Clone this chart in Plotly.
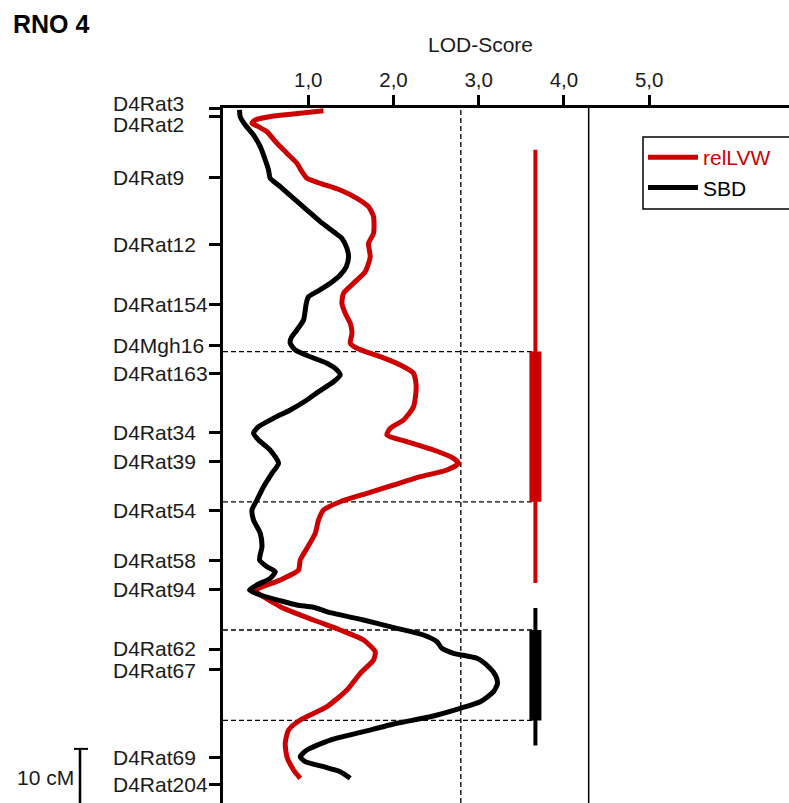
import plotly.graph_objects as go

# ---- data (LOD score vs. position in cM) ----
markers = ["D4Rat3", "D4Rat2", "D4Rat9", "D4Rat12", "D4Rat154", "D4Mgh16", "D4Rat163",
           "D4Rat34", "D4Rat39", "D4Rat54", "D4Rat58", "D4Rat94", "D4Rat62", "D4Rat67",
           "D4Rat69", "D4Rat204"]
marker_cm = [0, 1.5, 11.9, 23.6, 33.8, 40.9, 45.7, 55.9, 61.0, 69.4, 78.1, 83.0, 93.3, 96.8,
             112.0, 116.7]

sbd_lod = [0.194, 0.202, 0.261, 0.358, 0.437, 0.496, 0.534, 0.554, 0.672, 0.828, 0.985, 1.141,
           1.297, 1.395, 1.454, 1.473, 1.446, 1.375, 1.258, 1.102, 1.004, 0.977, 0.965, 0.945,
           0.867, 0.797, 0.789, 0.848, 1.023, 1.219, 1.337, 1.375, 1.297, 1.121, 0.985, 0.789,
           0.593, 0.417, 0.358, 0.417, 0.554, 0.652, 0.574, 0.476, 0.398, 0.340, 0.358, 0.437,
           0.457, 0.429, 0.516, 0.613, 0.554, 0.398, 0.311, 0.437, 0.672, 0.867, 1.062, 1.258,
           1.649, 2.040, 2.352, 2.510, 2.568, 2.704, 2.979, 3.115, 3.194, 3.221, 3.174, 3.018,
           2.783, 2.431, 2.040, 1.649, 1.258, 0.985, 0.906, 0.965, 1.179, 1.375, 1.493]
sbd_cm = [0.34, 1.50, 2.93, 4.66, 6.67, 8.97, 10.69, 12.12, 13.57, 15.57, 17.59, 19.60,
          21.33, 22.47, 24.19, 25.64, 27.36, 28.79, 30.22, 31.67, 32.53, 33.67, 34.83, 36.55,
          38.28, 39.71, 40.57, 41.72, 42.88, 44.02, 45.17, 46.03, 47.19, 48.91, 50.34, 52.07,
          53.50, 54.95, 56.09, 57.24, 58.97, 61.26, 62.98, 65.29, 67.59, 69.31, 71.03, 73.33,
          75.64, 77.93, 79.09, 79.95, 81.09, 82.24, 83.10, 83.97, 84.95, 85.69, 86.09, 87.02,
          88.28, 89.71, 90.86, 92.02, 93.16, 94.02, 94.88, 96.33, 97.76, 99.19, 100.64, 102.36,
          103.50, 104.95, 106.09, 107.53, 108.97, 110.69, 111.84, 112.71, 113.57, 114.43, 115.57]

rel_lod = [1.179, 0.906, 0.593, 0.378, 0.340, 0.417, 0.516, 0.633, 0.750, 0.867, 0.926, 0.985,
           1.141, 1.375, 1.571, 1.707, 1.766, 1.766, 1.707, 1.727, 1.669, 1.531, 1.414, 1.395,
           1.434, 1.493, 1.513, 1.493, 1.571, 1.845, 2.079, 2.235, 2.267, 2.235, 2.118, 1.962,
           1.923, 2.158, 2.470, 2.704, 2.763, 2.627, 2.314, 2.001, 1.689, 1.375, 1.179, 1.121,
           1.082, 0.985, 0.906, 0.886, 0.672, 0.358, 0.378, 0.672, 1.062, 1.375, 1.649, 1.786,
           1.766, 1.610, 1.454, 1.219, 0.906, 0.769, 0.730, 0.750, 0.828, 0.906]
rel_cm = [0.47, 0.91, 1.38, 2.07, 2.64, 3.22, 4.09, 6.09, 7.81, 9.53, 10.98, 12.12,
          12.98, 14.14, 15.57, 17.02, 18.74, 21.60, 23.33, 25.64, 28.22, 30.22, 31.95, 33.67,
          35.40, 37.12, 38.84, 40.57, 41.43, 42.88, 44.31, 45.74, 48.05, 51.50, 53.79, 55.22,
          56.38, 57.53, 58.97, 60.40, 61.26, 62.41, 63.57, 65.00, 66.43, 67.88, 69.31, 71.03,
          73.33, 75.91, 77.93, 79.66, 81.38, 83.22, 83.40, 85.98, 88.28, 90.00, 91.72, 93.74,
          95.17, 97.47, 100.34, 103.22, 105.52, 107.24, 109.53, 111.84, 114.14, 115.57]

# confidence intervals (cM) and thresholds (LOD)
ci_pos = 3.665
rel_ci_outer = [7.2, 81.9]
rel_ci_inner = [42.0, 67.9]
sbd_ci_outer = [86.2, 109.9]
sbd_ci_inner = [90.0, 105.6]
lod_suggestive = 2.79
lod_significant = 4.29
lod_ticks = [1, 2, 3, 4, 5]
lod_ticktext = ["1,0", "2,0", "3,0", "4,0", "5,0"]
scale_bar_cm = 10

RED = "#cc0000"
BLACK = "#000000"
TXT = "#1a1a1a"
FONT = "Liberation Sans, Arial, sans-serif"

W, H = 789, 803
ML, MT = 223, 108
X_RANGE = [0, 6.64]
Y_RANGE = [119.83, 0]

fig = go.Figure()

fig.add_trace(go.Scatter(x=rel_lod, y=rel_cm, mode="lines",
                         name='<span style="color:#cc0000">relLVW</span>',
                         line=dict(color=RED, width=5, shape="spline", smoothing=0.6)))
fig.add_trace(go.Scatter(x=sbd_lod, y=sbd_cm, mode="lines", name="SBD",
                         line=dict(color=BLACK, width=5, shape="spline", smoothing=0.6)))

# confidence interval bars
for outer, inner, col in [(rel_ci_outer, rel_ci_inner, RED), (sbd_ci_outer, sbd_ci_inner, BLACK)]:
    fig.add_trace(go.Scatter(x=[ci_pos, ci_pos], y=outer, mode="lines", showlegend=False,
                             hoverinfo="skip", line=dict(color=col, width=4)))
    fig.add_trace(go.Scatter(x=[ci_pos, ci_pos], y=inner, mode="lines", showlegend=False,
                             hoverinfo="skip", line=dict(color=col, width=12)))

# threshold lines
fig.add_shape(type="line", xref="x", yref="paper", x0=lod_suggestive, x1=lod_suggestive, y0=0, y1=1,
              line=dict(color=BLACK, width=1.3, dash="5px,3px"), layer="below")
fig.add_shape(type="line", xref="x", yref="paper", x0=lod_significant, x1=lod_significant, y0=0, y1=1,
              line=dict(color=BLACK, width=1.5), layer="below")
# CI boundary dashed lines
for yv in rel_ci_inner + sbd_ci_inner:
    fig.add_shape(type="line", xref="x", yref="y", x0=0, x1=ci_pos, y0=yv, y1=yv,
                  line=dict(color=BLACK, width=1.3, dash="5px,3px"), layer="below")

PW = W - ML
PH = H - MT


def px_x(px):
    return (px - ML) / PW


def px_y(py):
    return 1 - (py - MT) / PH


def cm_to_paper(cm):
    return 1 - (cm - Y_RANGE[1]) / (Y_RANGE[0] - Y_RANGE[1])


# marker labels
shifts = {"D4Rat3": 5, "D4Rat2": -8, "D4Rat62": 1, "D4Rat67": -1}
for name, cm in zip(markers, marker_cm):
    fig.add_annotation(x=px_x(111), xref="paper", y=cm, yref="y", text=name, showarrow=False,
                       xanchor="left", yanchor="middle", yshift=shifts.get(name, 0),
                       font=dict(family=FONT, size=21, color=TXT))

# scale bar
sb_top = marker_cm[-2] - 1.5
fig.add_shape(type="line", xref="paper", yref="paper", x0=px_x(80), x1=px_x(80),
              y0=cm_to_paper(sb_top), y1=cm_to_paper(sb_top + scale_bar_cm),
              line=dict(color=BLACK, width=2.5))
fig.add_shape(type="line", xref="paper", yref="paper", x0=px_x(74), x1=px_x(88),
              y0=cm_to_paper(sb_top), y1=cm_to_paper(sb_top), line=dict(color=BLACK, width=2))
fig.add_annotation(x=px_x(45), xref="paper", y=cm_to_paper(sb_top + scale_bar_cm / 2), yref="paper",
                   text="10 cM", showarrow=False, xanchor="center", yanchor="middle",
                   font=dict(family=FONT, size=21, color=TXT))

# legend frame (runs off the right edge as in the original)
fig.add_shape(type="rect", xref="paper", yref="paper", x0=px_x(643), x1=px_x(800),
              y0=px_y(209), y1=px_y(137), line=dict(color=BLACK, width=1.5), layer="above")

# titles
fig.add_annotation(x=px_x(11), xref="paper", y=1 + (MT - 24) / PH, yref="paper", text="<b>RNO 4</b>",
                   showarrow=False, xanchor="left", yanchor="middle",
                   font=dict(family=FONT, size=25, color=BLACK))
fig.add_annotation(x=px_x(480), xref="paper", y=1 + (MT - 44) / PH, yref="paper", text="LOD-Score",
                   showarrow=False, xanchor="center", yanchor="middle",
                   font=dict(family=FONT, size=21, color=TXT))

fig.update_xaxes(range=X_RANGE, side="top", tickvals=lod_ticks, ticktext=lod_ticktext,
                 ticks="outside", ticklen=10, tickwidth=2.5, tickcolor=BLACK,
                 showline=True, linewidth=2.7, linecolor=BLACK, showgrid=False, zeroline=False,
                 tickfont=dict(family=FONT, size=20.5, color=TXT))
fig.update_yaxes(range=Y_RANGE, tickvals=marker_cm, ticktext=[""] * len(marker_cm),
                 ticks="outside", ticklen=11, tickwidth=2.5, tickcolor=BLACK,
                 showline=True, linewidth=2.7, linecolor=BLACK, showgrid=False, zeroline=False)

fig.update_layout(
    width=W, height=H, margin=dict(l=ML, r=0, t=MT, b=0, pad=0, autoexpand=False),
    paper_bgcolor="white", plot_bgcolor="white",
    font=dict(family=FONT, size=21, color=TXT),
    legend=dict(x=px_x(643), y=px_y(137), xanchor="left", yanchor="top",
                borderwidth=0, bgcolor="rgba(0,0,0,0)", itemwidth=50,
                font=dict(family=FONT, size=21, color=BLACK), tracegroupgap=0),
    showlegend=True,
)

fig.write_html("out.html")
